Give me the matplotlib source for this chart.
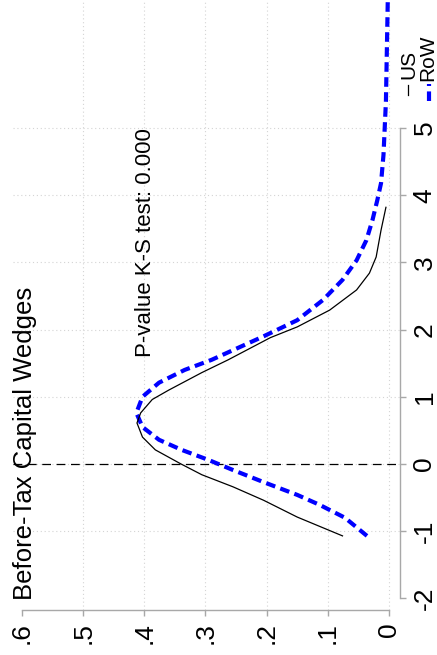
import matplotlib
matplotlib.use("Agg")
import matplotlib.pyplot as plt
from matplotlib.lines import Line2D

plt.rcParams['font.family'] = ['Liberation Sans', 'DejaVu Sans']

us_wedge = [-1.07, -0.79, -0.54, -0.34, -0.16, 0.0, 0.21, 0.40, 0.61, 0.76, 0.96,
            1.10, 1.36, 1.55, 1.88, 2.04, 2.29, 2.59, 2.84, 3.08, 3.48, 3.82]
us_dens = [0.076, 0.150, 0.205, 0.255, 0.306, 0.340, 0.382, 0.403, 0.412, 0.406, 0.387,
           0.360, 0.306, 0.263, 0.194, 0.150, 0.097, 0.053, 0.032, 0.021, 0.013, 0.005]

row_wedge = [-1.07, -0.80, -0.61, -0.46, -0.27, -0.09, 0.06, 0.21, 0.36, 0.55, 0.76,
             1.00, 1.21, 1.40, 1.55, 1.90, 2.14, 2.44, 2.74, 3.03, 3.33, 3.63, 3.93,
             4.18, 4.60, 5.40, 6.90]
row_dens = [0.036, 0.072, 0.113, 0.150, 0.205, 0.255, 0.295, 0.339, 0.376, 0.403, 0.413,
            0.403, 0.376, 0.334, 0.290, 0.205, 0.150, 0.108, 0.076, 0.053, 0.037, 0.027,
            0.019, 0.013, 0.009, 0.005, 0.002]

dens_ticks = [0.6, 0.5, 0.4, 0.3, 0.2, 0.1, 0.0]
dens_labels = ['.6', '.5', '.4', '.3', '.2', '.1', '0']
wedge_ticks = [-2, -1, 0, 1, 2, 3, 4, 5]

title = 'Before-Tax Capital Wedges'
ks_text = 'P-value K-S test: 0.000'

W, H = 437, 655
fig = plt.figure(figsize=(W / 100, H / 100), dpi=100)
ax = fig.add_axes([13 / W, 1 - 610 / H, (400 - 13) / W, 610 / H])

gray = '#a8a8a8'

# grid
for d in dens_ticks[1:]:
    ax.axvline(d, color='#d4d4d4', lw=0.8, ls=(0, (1, 2.5)), zorder=0)
for w in wedge_ticks[1:]:
    ax.axhline(w, color='#d4d4d4', lw=0.8, ls=(0, (1, 2.5)), zorder=0)

ax.axhline(0, color='black', lw=0.9, ls=(0, (7, 4.5)), zorder=1)

ax.plot(us_dens, us_wedge, color='black', lw=0.9, zorder=3)
ax.plot(row_dens, row_wedge, color='#0000ff', lw=3, ls=(0, (2.3, 1.3)), zorder=2)

ax.set_xlim(0.6147, -0.018)
ax.set_ylim(-2.173, 6.905)

for s in ['top', 'left']:
    ax.spines[s].set_visible(False)
ax.spines['bottom'].set_bounds(0, 0.6)
ax.spines['right'].set_bounds(-2, 5)
for s in ['bottom', 'right']:
    ax.spines[s].set_color(gray)
    ax.spines[s].set_linewidth(1)

ax.set_xticks(dens_ticks)
ax.set_xticklabels(dens_labels)
ax.set_yticks(wedge_ticks)
ax.set_yticklabels([str(w) for w in wedge_ticks])
ax.yaxis.tick_right()
ax.tick_params(axis='x', length=4, width=1, color=gray, pad=5,
               labelsize=19, labelrotation=90)
ax.tick_params(axis='y', length=4, width=1, color=gray, pad=5,
               labelsize=19, labelrotation=90)
for lab in ax.get_yticklabels():
    lab.set_va('center')

ax.text(0.398, 3.29, ks_text, rotation=90, ha='center', va='center', fontsize=16)

fig.text(25 / W, 1 - 600 / H, title, rotation=90, ha='center', va='bottom',
         fontsize=18.5)

# legend (rotated)
fig.add_artist(Line2D([408 / W, 408 / W], [1 - 95 / H, 1 - 85 / H],
                      transform=fig.transFigure, color='black', lw=0.9))
fig.text(409 / W, 1 - 79 / H, 'US', rotation=90, ha='center', va='bottom',
         fontsize=15)
fig.add_artist(Line2D([429 / W, 429 / W], [1 - 101 / H, 1 - 84 / H],
                      transform=fig.transFigure, color='#0000ff', lw=3,
                      ls=(0, (2.3, 1.3))))
fig.text(428 / W, 1 - 81 / H, 'RoW', rotation=90, ha='center', va='bottom',
         fontsize=15)

fig.savefig('out.png', dpi=100)
